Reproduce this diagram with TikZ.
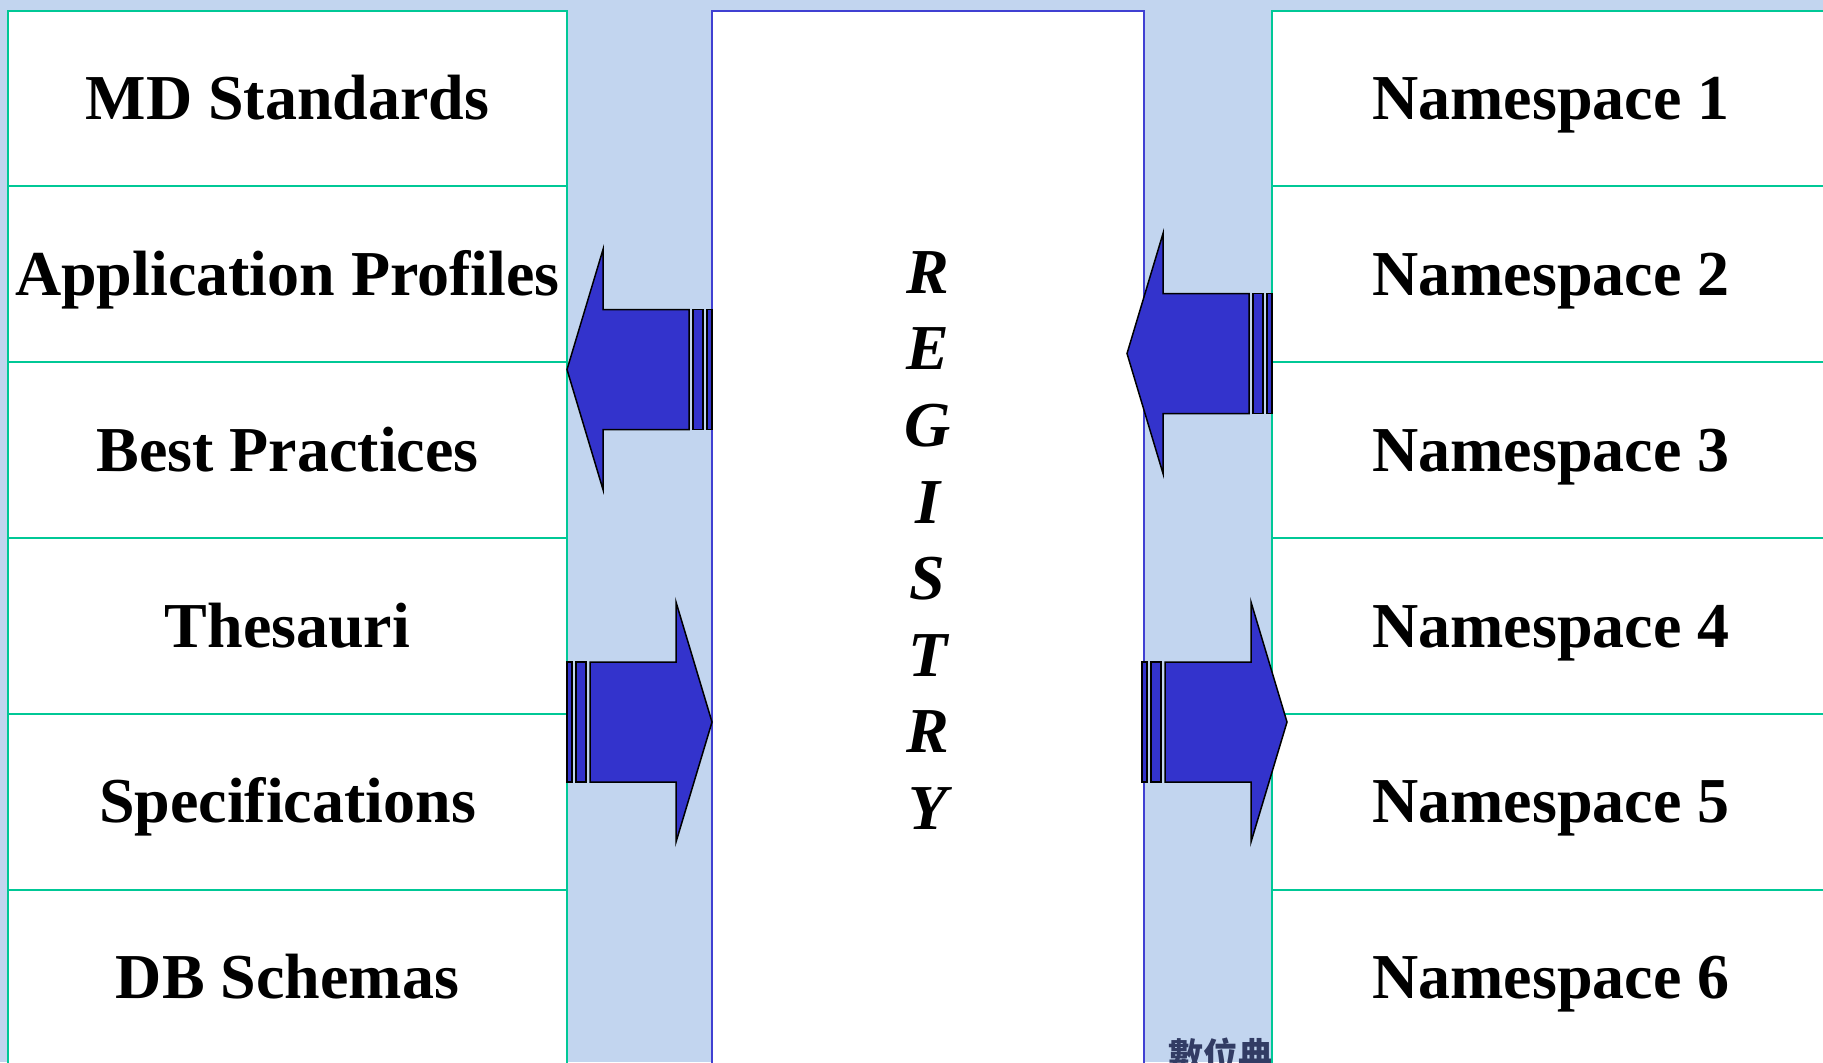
\documentclass[tikz,border=0pt]{standalone}
\usepackage{fontspec}
\setmainfont{Liberation Serif}
\newfontfamily\cjkfont{Noto Sans CJK TC}
\usetikzlibrary{positioning}
\definecolor{slideblue}{RGB}{194,213,239}
\definecolor{boxgreen}{RGB}{0,200,150}
\definecolor{regblue}{RGB}{64,64,210}
\definecolor{arrowblue}{RGB}{51,51,204}
\definecolor{markgrey}{RGB}{50,60,100}
\tikzset{
  listbox/.style={
    draw=boxgreen, line width=1pt, fill=white, inner sep=0pt, outer sep=0pt,
    minimum width=279.5pt, minimum height=87.9pt,
    text height=21.2pt, text depth=0pt,
    font=\bfseries\fontsize{32}{38}\selectfont
  },
  arrowpart/.style={draw=black, line width=0.75pt, fill=arrowblue, line join=miter},
  pics/stripedarrow/.style={
    code={
      \draw[arrowpart] (0,0) -- (-36,-120) -- (-36,-60) -- (-122,-60)
        -- (-122,60) -- (-36,60) -- (-36,120) -- cycle;
      \draw[arrowpart] (-136,-60) rectangle (-126,60);
      \draw[arrowpart] (-145,-60) rectangle (-140,60);
    }
  }
}

\begin{document}
\begin{tikzpicture}[x=0.5pt, y=-0.5pt]

    \useasboundingbox (0,0) rectangle (1823,1062);
    \clip (0,0) rectangle (1823,1062);
    \fill[slideblue] (0,0) rectangle (1823,1062);

    % Watermark of the slide background
    \node[anchor=west, inner sep=0pt, text=markgrey, font=\cjkfont\bfseries\fontsize{17.5}{17.5}\selectfont] (mark) at (1168,1055) {數位典};

    % Left column
    \node[listbox] (mdstd) at (287.5,98.4) {MD Standards};
    \node[listbox, below=0pt of mdstd] (appprof) {Application Profiles};
    \node[listbox, below=0pt of appprof] (bestprac) {Best Practices};
    \node[listbox, below=0pt of bestprac] (thesauri) {Thesauri};
    \node[listbox, below=0pt of thesauri] (specs) {Specifications};
    \node[listbox, below=0pt of specs] (dbschema) {DB Schemas};

    % Registry in the middle
    \node[draw=regblue, line width=1pt, fill=white, inner sep=0pt,
          minimum width=216.25pt, minimum height=534.75pt] (registry) at (927.75,545.25) {};
    \node[align=center, inner sep=0pt, font=\bfseries\itshape\fontsize{32}{38.3}\selectfont] (regtext)
        at (927.75,540.5) {R\\E\\G\\I\\S\\T\\R\\Y};

    % Right column
    \node[listbox] (ns1) at (1551,98.4) {Namespace 1};
    \node[listbox, below=0pt of ns1] (ns2) {Namespace 2};
    \node[listbox, below=0pt of ns2] (ns3) {Namespace 3};
    \node[listbox, below=0pt of ns3] (ns4) {Namespace 4};
    \node[listbox, below=0pt of ns4] (ns5) {Namespace 5};
    \node[listbox, below=0pt of ns5] (ns6) {Namespace 6};

    % Striped arrows
    \pic[xscale=-1] (toleft) at (567,369.5) {stripedarrow};
    \pic[xscale=-1] (fromns) at (1127,353.5) {stripedarrow};
    \pic (toreg) at (712,722) {stripedarrow};
    \pic (tons) at (1287,722) {stripedarrow};

\end{tikzpicture}
\end{document}
